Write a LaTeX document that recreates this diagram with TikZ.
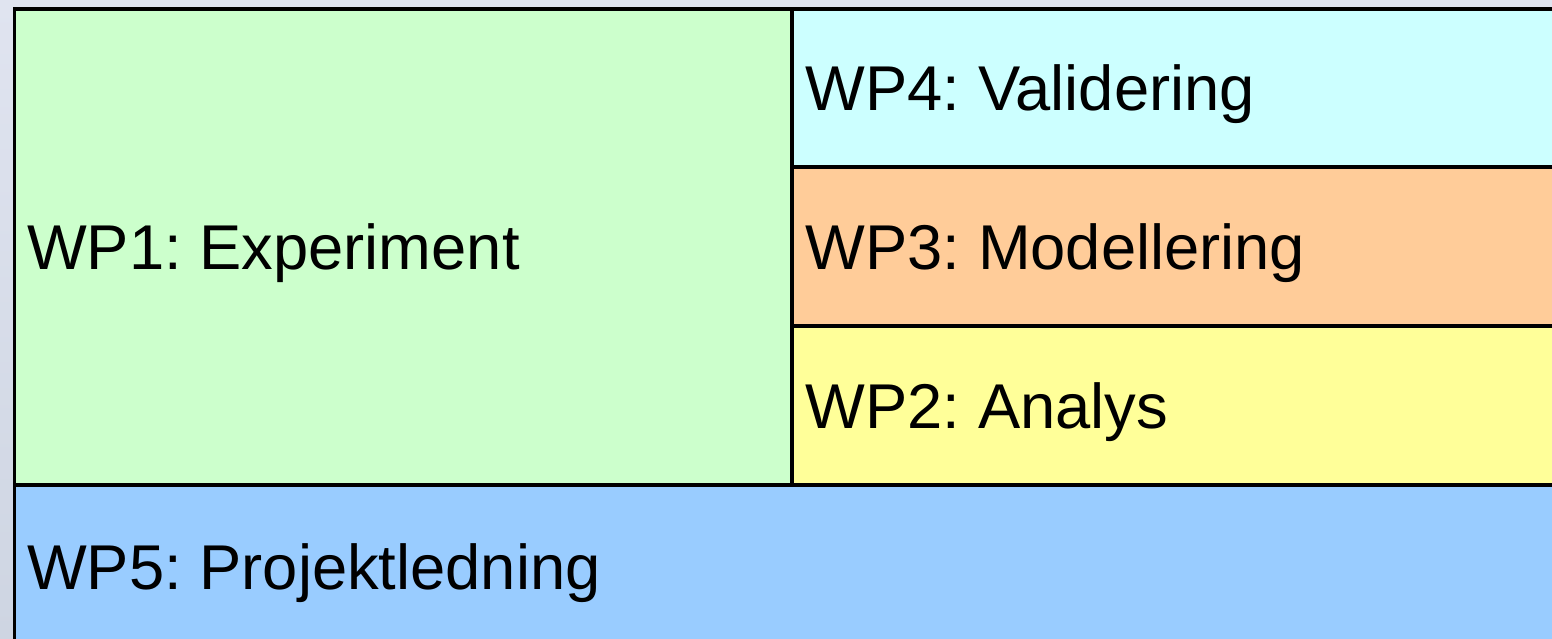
\documentclass[tikz,border=0pt]{standalone}
\usepackage{fontspec}
\setmainfont{Liberation Sans}
\usetikzlibrary{positioning,calc}
\definecolor{wpgreen}{RGB}{204,255,204}
\definecolor{wpcyan}{RGB}{204,255,255}
\definecolor{wporange}{RGB}{255,204,153}
\definecolor{wpyellow}{RGB}{255,255,153}
\definecolor{wpblue}{RGB}{153,204,255}
\definecolor{bgtop}{RGB}{224,228,240}
\definecolor{bgmid}{RGB}{244,243,247}
\definecolor{bgbot}{RGB}{206,213,226}
\tikzset{
	cell/.style={draw=black, line width=0.9pt, rectangle, inner sep=0pt, outer sep=0pt, anchor=north west},
	wplabel/.style={anchor=base west, inner sep=0pt, font=\fontsize{18}{21.6}\selectfont}
}
\frenchspacing

\begin{document}
\begin{tikzpicture}[x=0.01cm, y=0.01cm]
		%Frame and background
		\useasboundingbox (0,0) rectangle (1552,638);
		\clip (0,0) rectangle (1552,638);
		\shade [top color=bgtop, middle color=bgmid, bottom color=bgbot] (0,0) rectangle (1552,638);
		%Cells
		\node [cell, fill=wpgreen, minimum width=777.5*0.01cm, minimum height=476*0.01cm] (wp1) at (14.5,629) {};
		\node [cell, fill=wpcyan, minimum width=768*0.01cm, minimum height=158*0.01cm] (wp4) at (wp1.north east) {};
		\node [cell, fill=wporange, minimum width=768*0.01cm, minimum height=159*0.01cm, below=0pt of wp4] (wp3) {};
		\node [cell, fill=wpyellow, minimum width=768*0.01cm, minimum height=159*0.01cm, below=0pt of wp3] (wp2) {};
		\node [cell, fill=wpblue, minimum width=1545.5*0.01cm, minimum height=164*0.01cm] (wp5) at (wp1.south west) {};
		%Labels
		\node [wplabel] (wp1text) at ($(wp1.west)+(12,-22.5)$) {WP1: Experiment};
		\node [wplabel] (wp4text) at ($(wp4.west)+(13,-22.5)$) {WP4: Validering};
		\node [wplabel] (wp3text) at ($(wp3.west)+(13,-22.5)$) {WP3: Modellering};
		\node [wplabel] (wp2text) at ($(wp2.west)+(13,-22.5)$) {WP2: Analys};
		\node [wplabel] (wp5text) at ($(wp5.west)+(12,-22.5)$) {WP5: Projektledning};
	\end{tikzpicture}
\end{document}
